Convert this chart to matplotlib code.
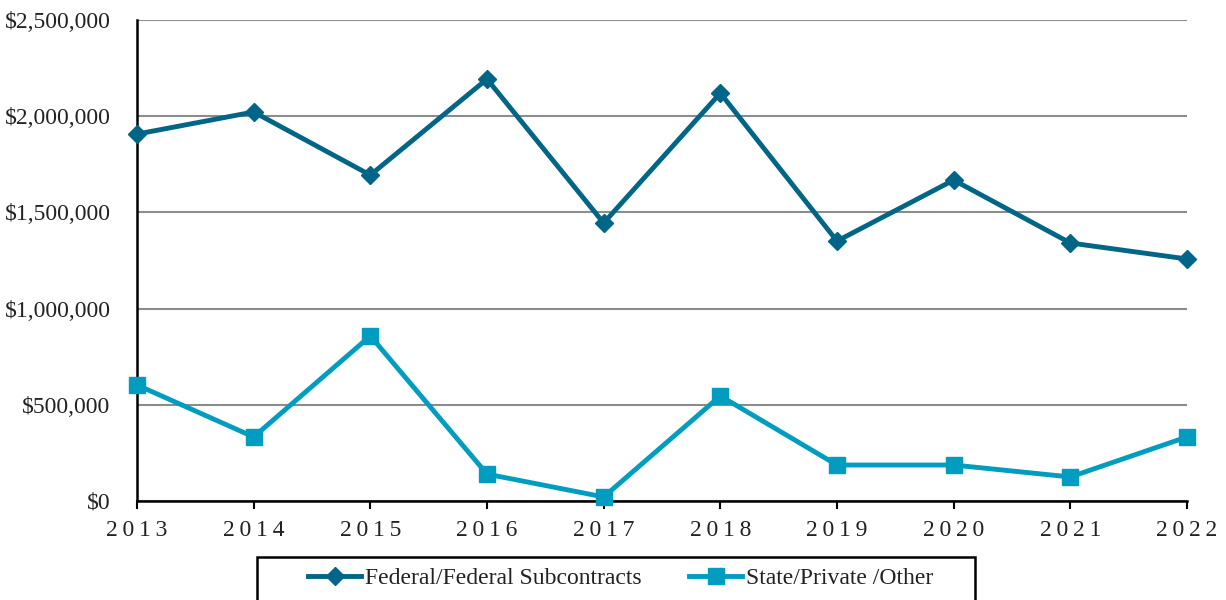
import matplotlib
matplotlib.use("Agg")
import matplotlib.pyplot as plt
from matplotlib.patches import Rectangle
from matplotlib.ticker import FuncFormatter, MultipleLocator

years = ["2013", "2014", "2015", "2016", "2017", "2018", "2019", "2020", "2021", "2022"]
federal = [1907000, 2022000, 1694000, 2193000, 1445000, 2120000, 1351000, 1668000, 1341000, 1258000]
state = [603000, 333000, 858000, 140000, 21000, 546000, 187000, 187000, 125000, 333000]
series_names = ["Federal/Federal Subcontracts", "State/Private /Other"]

plt.rcParams['font.family'] = ['Liberation Serif', 'DejaVu Serif']

fig = plt.figure(figsize=(12.26, 6), dpi=100)
ax = fig.add_axes([137/1226, 1-501/600, (1187-137)/1226, (501-20)/600])

x = list(range(len(years)))
ax.plot(x, federal, color="#006586", lw=3.5, marker="D", ms=9, label=series_names[0], zorder=3, clip_on=False)
ax.plot(x, state, color="#009DC0", lw=3.5, marker="s", ms=12, label=series_names[1], zorder=3, clip_on=False)

ax.set_xlim(0, len(years)-1)
ax.set_ylim(0, 2500000)
ax.yaxis.set_major_locator(MultipleLocator(500000))
ax.yaxis.set_major_formatter(FuncFormatter(lambda v, p: "$0" if v == 0 else "${:,.0f}".format(v)))
ax.set_xticks(x)
ax.set_xticklabels(["\u2009".join(y) for y in years], fontsize=17)
ax.tick_params(axis='y', length=0, labelsize=17, pad=19, colors="#222222")
ax.tick_params(axis='x', length=6, width=1.5, direction='out', pad=8, labelcolor="#222222")
ax.grid(axis='y', color="#8c8c8c", lw=1.5)
ax.set_axisbelow(True)
for s in ["top", "right"]:
    ax.spines[s].set_visible(False)
for s in ["left", "bottom"]:
    ax.spines[s].set_linewidth(1.8)
    ax.spines[s].set_color("black")

fig.patches.append(Rectangle((257/1226, -0.05), (975-257)/1226, 0.05+43/600,
                             transform=fig.transFigure, fill=False, ec="black", lw=1.8))
leg = fig.legend(loc="center", bbox_to_anchor=(621/1226, 1-578/600), ncol=2, frameon=False,
                 fontsize=17, handlelength=2.25, columnspacing=2.0, handletextpad=0.17)
for t in leg.get_texts():
    t.set_color("#222222")

fig.savefig("out.png", dpi=100)
